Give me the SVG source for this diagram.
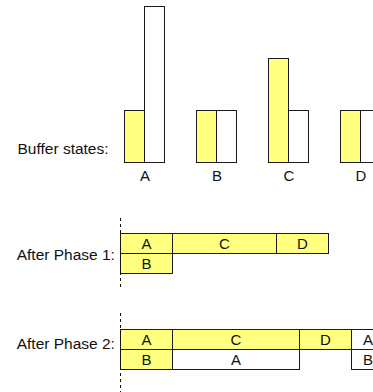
<svg xmlns="http://www.w3.org/2000/svg" width="373" height="392" viewBox="0 0 373 392">
  <style>
    .fill { fill: #ffff80; stroke: #1a1a1a; stroke-width: 1; }
    .empty { fill: #ffffff; stroke: #1a1a1a; stroke-width: 1; }
    .lbl { font-family: "Liberation Sans", Arial, sans-serif; font-size: 15.5px; fill: #111; }
    .cell { font-family: "Liberation Sans", Arial, sans-serif; font-size: 15px; fill: #111; text-anchor: middle; }
    .axis { stroke: #111; stroke-width: 1; stroke-dasharray: 3 3; fill: none; }
  </style>
  <rect width="373" height="392" fill="#ffffff"/>

  <!-- Buffer states: filled part and free part of each buffer -->
  <g id="buffer-states">
    <text class="lbl" x="17.5" y="154">Buffer states:</text>
  </g>
  <g id="buffer-A">
    <rect class="fill" x="124.5" y="110.5" width="20" height="52"/>
    <rect class="empty" x="144.5" y="6.5" width="20" height="156"/>
    <text class="cell" x="145" y="181">A</text>
  </g>
  <g id="buffer-B">
    <rect class="fill" x="196.5" y="110.5" width="20" height="52"/>
    <rect class="empty" x="216.5" y="110.5" width="20" height="52"/>
    <text class="cell" x="217" y="181">B</text>
  </g>
  <g id="buffer-C">
    <rect class="fill" x="268.5" y="58.5" width="20" height="104"/>
    <rect class="empty" x="288.5" y="110.5" width="20" height="52"/>
    <text class="cell" x="289" y="181">C</text>
  </g>
  <g id="buffer-D">
    <rect class="fill" x="340.5" y="110.5" width="20" height="52"/>
    <rect class="empty" x="360.5" y="110.5" width="20" height="52"/>
    <text class="cell" x="361" y="181">D</text>
  </g>

  <!-- Layout after phase 1 -->
  <g id="phase-1">
    <text class="lbl" x="16.7" y="259.5">After Phase 1:</text>
    <rect class="fill" x="120.5" y="233.5" width="52" height="20"/>
    <text class="cell" x="146.5" y="249">A</text>
    <rect class="fill" x="172.5" y="233.5" width="104" height="20"/>
    <text class="cell" x="224.5" y="249">C</text>
    <rect class="fill" x="276.5" y="233.5" width="52" height="20"/>
    <text class="cell" x="302.5" y="249">D</text>
    <rect class="fill" x="120.5" y="253.5" width="52" height="20"/>
    <text class="cell" x="146.5" y="269">B</text>
  </g>

  <!-- Layout after phase 2 -->
  <g id="phase-2">
    <text class="lbl" x="16.7" y="348.5">After Phase 2:</text>
    <rect class="fill" x="120.5" y="329.5" width="52" height="20"/>
    <text class="cell" x="146.5" y="345">A</text>
    <rect class="fill" x="172.5" y="329.5" width="127" height="20"/>
    <text class="cell" x="236" y="345">C</text>
    <rect class="fill" x="299.5" y="329.5" width="52" height="20"/>
    <text class="cell" x="325.5" y="345">D</text>
    <rect class="empty" x="351.5" y="329.5" width="52" height="20"/>
    <text class="cell" x="368" y="345">A</text>
    <rect class="fill" x="120.5" y="349.5" width="52" height="20"/>
    <text class="cell" x="146.5" y="365">B</text>
    <rect class="empty" x="172.5" y="349.5" width="127" height="20"/>
    <text class="cell" x="236" y="365">A</text>
    <rect class="empty" x="351.5" y="349.5" width="52" height="20"/>
    <text class="cell" x="368" y="365">B</text>
  </g>

  <!-- Dashed origin lines -->
  <g id="connectors">
    <line class="axis" x1="120.5" y1="218" x2="120.5" y2="290"/>
    <line class="axis" x1="120.5" y1="313" x2="120.5" y2="392"/>
  </g>
</svg>
